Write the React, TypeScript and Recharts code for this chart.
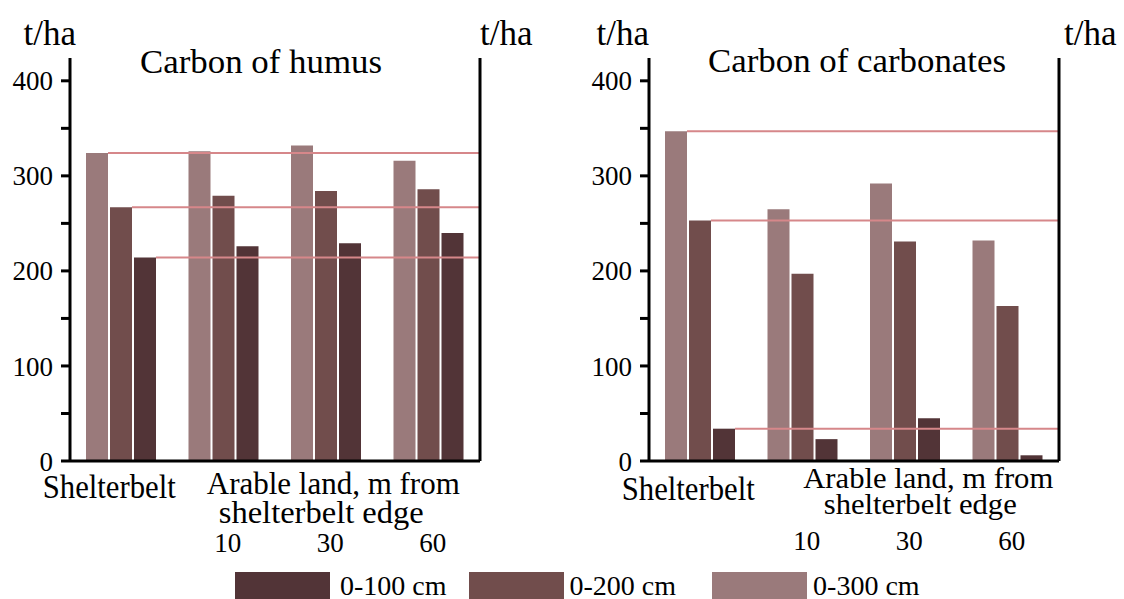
import React from 'react';
import { BarChart, Bar, XAxis, YAxis, ReferenceLine, Legend, Label } from 'recharts';

const SERIF = "'Liberation Serif', 'Times New Roman', Times, serif";

const CATEGORIES = ['Shelterbelt', '10', '30', '60'];
const X_LABEL_LINES = ['Arable land, m from', 'shelterbelt edge'];

const HUMUS_0_100 = [214, 226, 229, 240];
const HUMUS_0_200 = [267, 279, 284, 286];
const HUMUS_0_300 = [324, 326, 332, 316];

const CARB_0_100 = [34, 23, 45, 6];
const CARB_0_200 = [253, 197, 231, 163];
const CARB_0_300 = [347, 265, 292, 232];

const Y_TICKS = [0, 50, 100, 150, 200, 250, 300, 350, 400];
const Y_LABELED = [0, 100, 200, 300, 400];
const Y_TOP = 424;

const SERIES_KEYS = ['s300', 's200', 's100'];
const SERIES_NAMES = ['0-300 cm', '0-200 cm', '0-100 cm'];
const SERIES_COLORS = ['#9a7a7b', '#714d4c', '#523437'];
const REF_COLOR = '#d6878a';

const BAR_SIZE = 22;
const BAR_GAP = 2;

type Cfg = {
  left: number;
  width: number;
  margin: { top: number; right: number; bottom: number; left: number };
  title: string;
  titleX: number;
  titleY: number;
  titleLen: number;
  leftUnitDx: number;
  rightUnitDx: number;
  shelterDx: number;
  shelterDy: number;
  numDy: number;
  arableDx: number;
  arableDy: number;
  arableLen: number;
  edgeDx: number;
  edgeDy: number;
  edgeLen: number;
  descFont: number;
};

const makeRefShape = (seriesIndex: number) => (props: any) => {
  const { x1, x2, y1 } = props;
  const band = (x2 - x1) / CATEGORIES.length;
  const groupW = SERIES_KEYS.length * BAR_SIZE + (SERIES_KEYS.length - 1) * BAR_GAP;
  const offset = Math.floor((band - groupW) / 2);
  const start = x1 + offset + (seriesIndex + 1) * BAR_SIZE + seriesIndex * BAR_GAP;
  return <line x1={start} y1={y1} x2={x2} y2={y1} stroke={REF_COLOR} strokeWidth={2} />;
};

const YTick = (props: any) => {
  const { x, y, payload, textAnchor } = props;
  if (!Y_LABELED.includes(payload.value)) return <g />;
  return (
    <text x={x} y={y} dy="0.355em" textAnchor={textAnchor} fontSize={27} fontFamily={SERIF} fill="#000">
      {payload.value}
    </text>
  );
};

const makeXTick = (cfg: Cfg) => (props: any) => {
  const { x, y, payload } = props;
  const v = payload.value;
  const common = { fontFamily: SERIF, fill: '#000', textAnchor: 'middle' as const };
  if (v === CATEGORIES[0]) {
    return (
      <text x={x + cfg.shelterDx} y={y + cfg.shelterDy} fontSize={34} textLength={133} lengthAdjust="spacingAndGlyphs" {...common}>
        {v}
      </text>
    );
  }
  return (
    <g>
      <text x={x + 4} y={y + cfg.numDy} fontSize={27} {...common}>
        {v}
      </text>
      {v === CATEGORIES[2] && (
        <>
          <text x={x + cfg.arableDx} y={y + cfg.arableDy} fontSize={cfg.descFont} textLength={cfg.arableLen} lengthAdjust="spacingAndGlyphs" {...common}>
            {X_LABEL_LINES[0]}
          </text>
          <text x={x + cfg.edgeDx} y={y + cfg.edgeDy} fontSize={cfg.descFont} textLength={cfg.edgeLen} lengthAdjust="spacingAndGlyphs" {...common}>
            {X_LABEL_LINES[1]}
          </text>
        </>
      )}
    </g>
  );
};

const renderLegend = (props: any) => {
  const items = [...(props.payload || [])].sort((a: any, b: any) => String(a.value).localeCompare(String(b.value)));
  const gaps = [22, 36, 0];
  const textGaps = [10, 6, 6];
  return (
    <div style={{ display: 'flex', alignItems: 'flex-start', fontFamily: SERIF, fontSize: 28, color: '#000' }}>
      {items.map((e: any, i: number) => (
        <div key={e.value} style={{ display: 'flex', alignItems: 'flex-start', marginRight: gaps[i] }}>
          <div style={{ width: 95, height: 30, background: e.color }} />
          <span style={{ marginLeft: textGaps[i], lineHeight: '28px', whiteSpace: 'pre' }}>{e.value}</span>
        </div>
      ))}
    </div>
  );
};

function Panel({ cfg, v100, v200, v300, withLegend }: { cfg: Cfg; v100: number[]; v200: number[]; v300: number[]; withLegend: boolean }) {
  const data = CATEGORIES.map((cat, i) => ({ cat, s300: v300[i], s200: v200[i], s100: v100[i] }));
  const vals = [v300, v200, v100];
  const axisLine = { stroke: '#000', strokeWidth: 3 };
  return (
    <div style={{ position: 'absolute', left: cfg.left, top: 0 }}>
      <BarChart width={cfg.width} height={599} data={data} margin={cfg.margin} barSize={BAR_SIZE} barGap={BAR_GAP}>
        <XAxis
          dataKey="cat"
          height={100}
          axisLine={axisLine}
          tickLine={false}
          tickSize={0}
          tickMargin={0}
          interval={0}
          tick={makeXTick(cfg)}
        />
        <YAxis
          yAxisId="l"
          orientation="left"
          width={60}
          type="number"
          domain={[0, Y_TOP]}
          ticks={Y_TICKS}
          interval={0}
          axisLine={axisLine}
          tickLine={axisLine}
          tickSize={9}
          tickMargin={8}
          tick={<YTick />}
        >
          <Label
            content={(p: any) => (
              <text x={p.viewBox.x + p.viewBox.width + cfg.leftUnitDx} y={p.viewBox.y - 13} textAnchor="end" fontSize={35} fontFamily={SERIF} fill="#000">
                t/ha
              </text>
            )}
          />
        </YAxis>
        <YAxis
          yAxisId="r"
          orientation="right"
          width={60}
          type="number"
          domain={[0, Y_TOP]}
          ticks={Y_TICKS}
          interval={0}
          axisLine={axisLine}
          tickLine={axisLine}
          tickSize={9}
          tickMargin={8}
          tick={<YTick />}
        >
          <Label
            content={(p: any) => (
              <text x={p.viewBox.x + cfg.rightUnitDx} y={p.viewBox.y - 13} textAnchor="start" fontSize={35} fontFamily={SERIF} fill="#000">
                t/ha
              </text>
            )}
          />
        </YAxis>
        {SERIES_KEYS.map((k, i) => (
          <Bar key={k} dataKey={k} yAxisId="l" name={SERIES_NAMES[i]} fill={SERIES_COLORS[i]} isAnimationActive={false} />
        ))}
        {vals.map((v, i) => (
          <ReferenceLine key={'ref' + i} y={v[0]} yAxisId="l" shape={makeRefShape(i)} />
        ))}
        <text x={cfg.titleX} y={cfg.titleY} textAnchor="middle" fontSize={33} fontFamily={SERIF} fill="#000" textLength={cfg.titleLen} lengthAdjust="spacingAndGlyphs">
          {cfg.title}
        </text>
        {withLegend && (
          <Legend
            verticalAlign="middle"
            align="center"
            layout="horizontal"
            wrapperStyle={{ left: 235, top: 572, width: 760, height: 30 }}
            content={renderLegend}
          />
        )}
      </BarChart>
    </div>
  );
}

const LEFT_CFG: Cfg = {
  left: 0,
  width: 560,
  margin: { top: 58, right: 20, bottom: 38, left: 10 },
  title: 'Carbon of humus',
  titleX: 261,
  titleY: 73,
  titleLen: 242,
  leftUnitDx: 6,
  rightUnitDx: 0,
  shelterDx: -12,
  shelterDy: 37,
  numDy: 91,
  arableDx: 7,
  arableDy: 33,
  arableLen: 253,
  edgeDx: -5,
  edgeDy: 62,
  edgeLen: 205,
  descFont: 31,
};

const RIGHT_CFG: Cfg = {
  left: 579,
  width: 545,
  margin: { top: 58, right: 5, bottom: 38, left: 10 },
  title: 'Carbon of carbonates',
  titleX: 278,
  titleY: 72,
  titleLen: 298,
  leftUnitDx: 0,
  rightUnitDx: 5,
  shelterDx: -12,
  shelterDy: 39,
  numDy: 89,
  arableDx: 23,
  arableDy: 27,
  arableLen: 250,
  edgeDx: 15,
  edgeDy: 53,
  edgeLen: 193,
  descFont: 29,
};

export default function App() {
  return (
    <div style={{ position: 'absolute', left: 0, top: 0, width: 1124, height: 599, overflow: 'hidden', background: '#fff' }}>
      <Panel cfg={LEFT_CFG} v100={HUMUS_0_100} v200={HUMUS_0_200} v300={HUMUS_0_300} withLegend={true} />
      <Panel cfg={RIGHT_CFG} v100={CARB_0_100} v200={CARB_0_200} v300={CARB_0_300} withLegend={false} />
    </div>
  );
}
